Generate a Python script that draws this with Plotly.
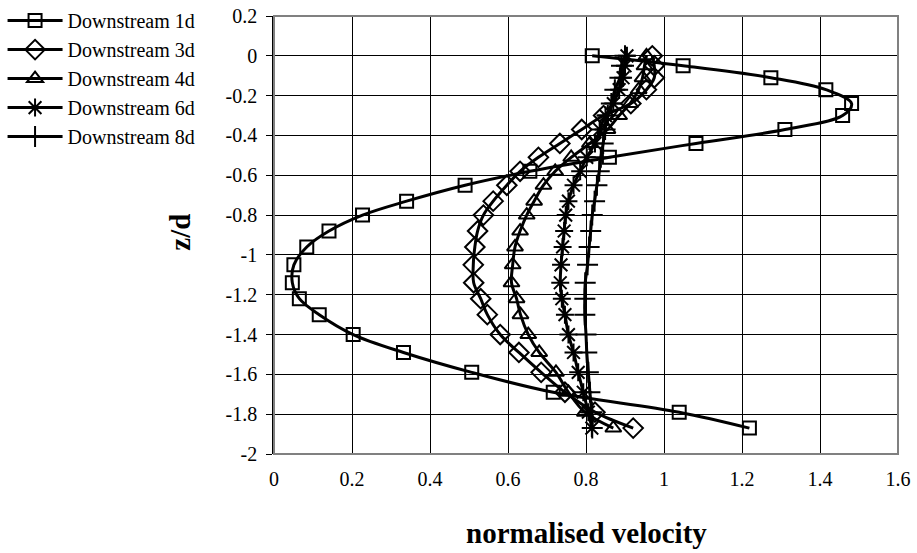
import plotly.graph_objects as go

z_d = [0, -0.05, -0.11, -0.17, -0.24, -0.30, -0.37, -0.44, -0.51, -0.58, -0.65,
       -0.73, -0.80, -0.88, -0.96, -1.05, -1.14, -1.22, -1.30, -1.40, -1.49,
       -1.59, -1.69, -1.79, -1.87]

v_1d = [0.816, 1.049, 1.274, 1.415, 1.481, 1.458, 1.310, 1.082, 0.860, 0.656, 0.490,
        0.340, 0.227, 0.141, 0.084, 0.051, 0.047, 0.065, 0.116, 0.203, 0.332,
        0.507, 0.716, 1.039, 1.219]
v_3d = [0.970, 0.975, 0.975, 0.955, 0.915, 0.845, 0.789, 0.733, 0.678, 0.631, 0.597,
        0.562, 0.537, 0.522, 0.515, 0.511, 0.512, 0.530, 0.547, 0.580, 0.628,
        0.685, 0.746, 0.823, 0.921]
v_4d = [0.955, 0.950, 0.945, 0.935, 0.913, 0.885, 0.855, 0.810, 0.762, 0.721, 0.691,
        0.667, 0.648, 0.631, 0.618, 0.612, 0.609, 0.622, 0.632, 0.652, 0.680,
        0.723, 0.755, 0.797, 0.870]
v_6d = [0.905, 0.900, 0.895, 0.885, 0.870, 0.850, 0.835, 0.823, 0.802, 0.785, 0.768,
        0.755, 0.748, 0.744, 0.740, 0.736, 0.734, 0.738, 0.746, 0.755, 0.768,
        0.780, 0.793, 0.806, 0.815]
v_8d = [0.900, 0.891, 0.887, 0.874, 0.865, 0.856, 0.849, 0.844, 0.838, 0.834, 0.828,
        0.822, 0.816, 0.812, 0.808, 0.804, 0.798, 0.797, 0.797, 0.800, 0.802,
        0.806, 0.810, 0.815, 0.816]

series_names = ["Downstream 1d", "Downstream 3d", "Downstream 4d", "Downstream 6d", "Downstream 8d"]
series_values = [v_1d, v_3d, v_4d, v_6d, v_8d]
symbols = ["square-open", "diamond-open", "triangle-up-open", "asterisk-open", "cross-thin-open"]
sizes = [13, 15, 14, 15, 15]

x_tickvals = [0, 0.2, 0.4, 0.6, 0.8, 1.0, 1.2, 1.4, 1.6]
x_ticktext = ["0", "0.2", "0.4", "0.6", "0.8", "1", "1.2", "1.4", "1.6"]
y_tickvals = [0.2, 0, -0.2, -0.4, -0.6, -0.8, -1.0, -1.2, -1.4, -1.6, -1.8, -2.0]
y_ticktext = ["0.2", "0", "-0.2", "-0.4", "-0.6", "-0.8", "-1", "-1.2", "-1.4", "-1.6", "-1.8", "-2"]

FONT = "Liberation Serif"

fig = go.Figure()
for name, vals, sym, sz in zip(series_names, series_values, symbols, sizes):
    fig.add_trace(go.Scatter(
        x=vals, y=z_d, name=name, mode="lines+markers",
        line=dict(color="black", width=3, shape="spline", smoothing=1.0),
        marker=dict(symbol=sym, size=sz, color="black", line=dict(color="black", width=2)),
    ))

fig.update_layout(
    width=917, height=553,
    margin=dict(l=274, r=19, t=16, b=99, autoexpand=False),
    paper_bgcolor="white", plot_bgcolor="white",
    font=dict(family=FONT, size=20, color="black"),
    showlegend=True,
    legend=dict(x=-0.435, y=1.034, xanchor="left", yanchor="top",
                font=dict(family=FONT, size=20, color="black"),
                bgcolor="rgba(0,0,0,0)", itemwidth=55, tracegroupgap=0),
    xaxis=dict(range=[0, 1.6], tickvals=x_tickvals, ticktext=x_ticktext,
               showgrid=True, gridcolor="black", gridwidth=1,
               showline=False, zeroline=False, ticks="",
               ticklabelstandoff=11, automargin=False,
               tickfont=dict(family=FONT, size=20, color="black")),
    yaxis=dict(range=[-2, 0.2], tickvals=y_tickvals, ticktext=y_ticktext,
               showgrid=True, gridcolor="black", gridwidth=1,
               showline=True, linecolor="black", linewidth=1.5,
               zeroline=False, ticks="outside", ticklen=6, tickcolor="black",
               ticklabelstandoff=5, automargin=False,
               tickfont=dict(family=FONT, size=20, color="black")),
    shapes=[dict(type="rect", xref="paper", yref="paper", x0=0, y0=0, x1=1, y1=1,
                 line=dict(color="#808080", width=2), layer="above")],
    annotations=[
        dict(text="<b>normalised velocity</b>", xref="paper", yref="paper",
             x=0.5, y=-0.18, xanchor="center", yanchor="middle", showarrow=False,
             font=dict(family=FONT, size=29, color="black")),
        dict(text="<b>z/d</b>", xref="paper", yref="paper",
             x=-0.151, y=0.507, xanchor="center", yanchor="middle", showarrow=False,
             textangle=-90, font=dict(family=FONT, size=29, color="black")),
    ],
)

fig.write_html("out.html")
